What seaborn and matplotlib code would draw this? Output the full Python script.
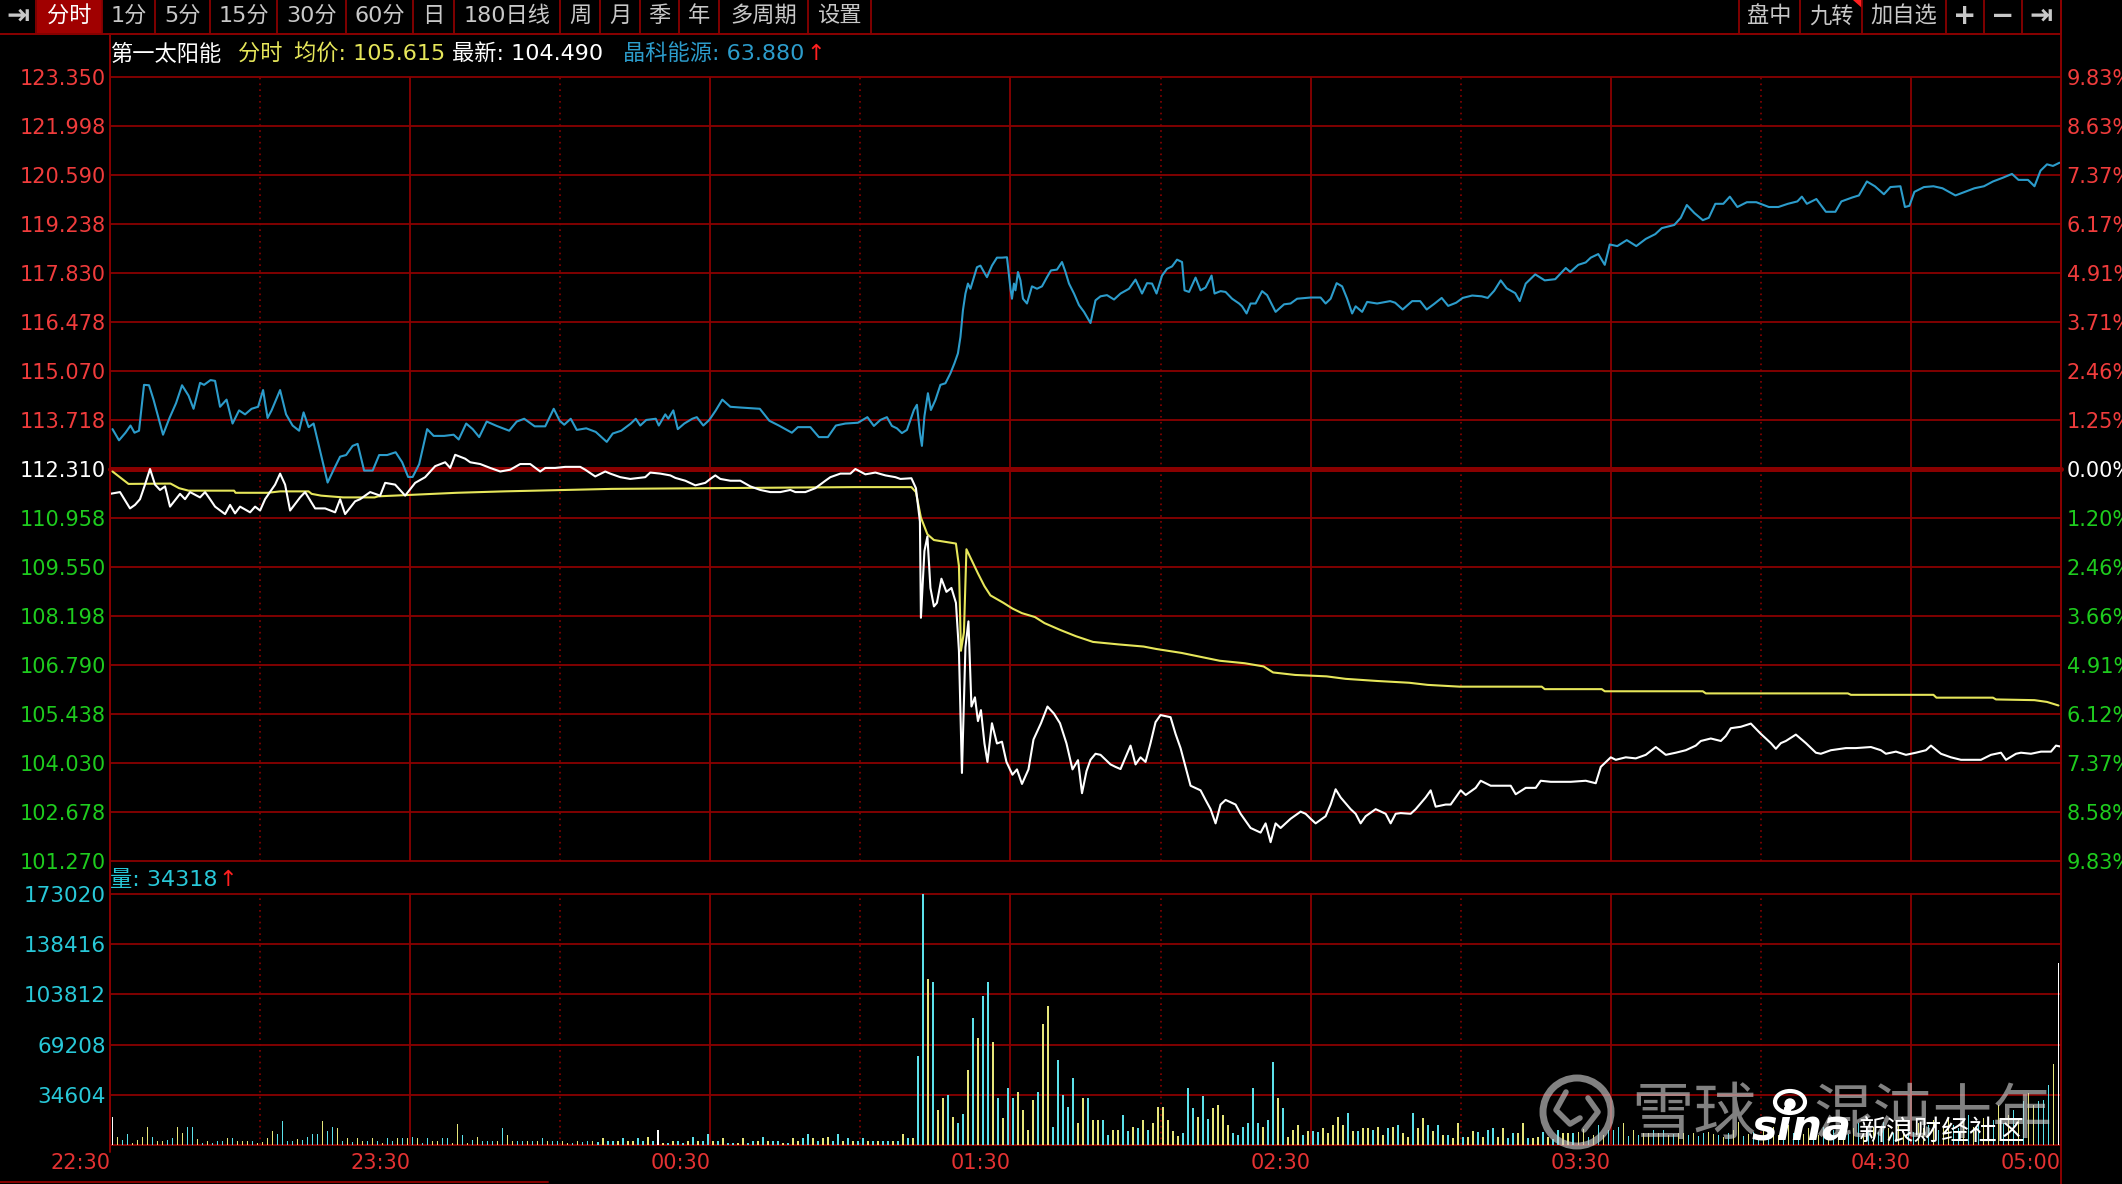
import numpy as np
import pandas as pd
import matplotlib.pyplot as plt
import seaborn as sns
from matplotlib.patches import Rectangle, Circle, Ellipse, Polygon

# ---------------- data ----------------
PRE_CLOSE = 112.31

PRICE_LABELS = ["123.350", "121.998", "120.590", "119.238", "117.830", "116.478",
                "115.070", "113.718", "112.310", "110.958", "109.550", "108.198",
                "106.790", "105.438", "104.030", "102.678", "101.270"]
PCT_LABELS = ["9.83%", "8.63%", "7.37%", "6.17%", "4.91%", "3.71%", "2.46%", "1.25%",
              "0.00%", "1.20%", "2.46%", "3.66%", "4.91%", "6.12%", "7.37%", "8.58%", "9.83%"]
VOL_TICKS = [34604, 69208, 103812, 138416, 173020]
TIME_TICKS = [0, 60, 120, 180, 240, 300, 360, 390]
TIME_LABELS = ["22:30", "23:30", "00:30", "01:30", "02:30", "03:30", "04:30", "05:00"]

# 第一太阳能 last price, minutes after 22:30
WHITE_T = [0, 2, 4, 5, 6, 7, 8, 9, 10, 11, 12, 14, 15, 16, 18, 19, 20, 21, 23, 24, 25, 26,
           28, 29, 30, 31, 33, 34, 35, 36, 38, 39, 41, 43, 45, 46, 47, 49, 50, 52, 54, 55,
           57, 59, 61, 63, 65, 67, 68, 69, 71, 72, 74, 76, 78, 80, 82, 84, 86, 87, 89, 91,
           94, 95, 97, 99, 100, 102, 104, 107, 108, 110, 112, 113, 115, 117, 119, 120, 121,
           122, 124, 126, 128, 130, 132, 134, 136, 137, 139, 141, 143, 144, 146, 148, 149,
           151, 153, 155, 157, 158, 160.2, 161.1, 161.9, 162.1, 162.8, 163.4, 164, 164.7,
           165.3, 166.2, 167.2, 168.2, 169.1, 169.7, 170.3, 171, 171.6, 172.2, 172.9, 173.5,
           174.1, 174.8, 175.4, 176.3, 177.3, 178.3, 179.2, 180.4, 181.3, 182.3, 183.6,
           184.6, 186.1, 187.4, 188.7, 189.9, 191.2, 192.4, 193.5, 194.3, 195.2,
           196, 197, 198, 200, 201, 202, 203, 204, 205, 206, 207, 208, 209, 210, 212, 213,
           214, 215, 216, 218, 219, 220, 221, 222, 223, 225, 226, 227, 228, 230, 231, 232,
           233, 234, 236, 238, 239, 240, 241, 243, 244, 245, 246, 248, 249, 250, 251, 253,
           255, 256, 257, 258, 260, 261, 263, 264, 265, 267, 268, 270, 271, 273, 274, 276,
           278, 280, 281, 283, 285, 286, 288, 290, 292, 295, 297, 298, 300, 301, 303, 305,
           307, 309, 311, 313, 315, 317, 318, 320, 322, 323, 324, 326, 328, 330, 332, 333,
           334, 335, 337, 339, 341, 342, 344, 347, 349, 352, 354, 355, 357, 359, 361, 363,
           364, 366, 368, 370, 372, 374, 376, 378, 379, 381, 382, 384, 386, 388, 389, 390]
WHITE_P = [111.61, 111.66, 111.20, 111.30, 111.46, 111.87, 112.31, 111.87, 111.72, 111.82,
           111.25, 111.61, 111.46, 111.66, 111.51, 111.66, 111.46, 111.25, 111.04, 111.30,
           111.06, 111.25, 111.09, 111.25, 111.14, 111.46, 111.87, 112.18, 111.87, 111.14,
           111.51, 111.66, 111.20, 111.20, 111.09, 111.46, 111.04, 111.40, 111.46, 111.66,
           111.56, 111.92, 111.87, 111.56, 111.92, 112.08, 112.39, 112.50, 112.34, 112.71,
           112.60, 112.50, 112.45, 112.34, 112.24, 112.29, 112.45, 112.45, 112.24, 112.34,
           112.34, 112.37, 112.37, 112.29, 112.10, 112.24, 112.18, 112.08, 112.03, 112.08,
           112.21, 112.18, 112.13, 112.06, 111.98, 111.85, 111.92, 112.03, 112.13, 112.03,
           111.98, 111.98, 111.82, 111.72, 111.66, 111.66, 111.72, 111.66, 111.66, 111.77,
           111.98, 112.08, 112.18, 112.18, 112.31, 112.16, 112.21, 112.13, 112.08, 112.03,
           112.05, 111.77, 110.83, 108.12, 110.00, 110.41, 108.96, 108.44, 108.54, 109.22,
           108.85, 108.96, 108.54, 107.19, 103.75, 107.29, 108.02, 105.62, 105.88, 105.21,
           105.52, 104.58, 104.06, 105.15, 104.58, 104.63, 104.06, 103.70, 103.85, 103.44,
           103.85, 104.69, 105.15, 105.62, 105.42, 105.15, 104.58, 103.85, 104.11, 103.18,
           103.80,
           104.12, 104.29, 104.26, 103.99, 103.92, 103.86, 104.19, 104.52, 103.99, 104.19,
           104.06, 104.59, 105.18, 105.38, 105.32, 104.85, 104.45, 103.92, 103.39, 103.26,
           102.99, 102.73, 102.33, 102.86, 102.99, 102.86, 102.60, 102.40, 102.20, 102.07,
           102.33, 101.80, 102.33, 102.20, 102.46, 102.66, 102.60, 102.46, 102.33, 102.53,
           102.86, 103.29, 103.06, 102.73, 102.60, 102.33, 102.53, 102.73, 102.60, 102.33,
           102.60, 102.62, 102.60, 102.73, 103.06, 103.26, 102.80, 102.86, 102.86, 103.26,
           103.13, 103.33, 103.53, 103.39, 103.39, 103.39, 103.15, 103.33, 103.33, 103.53,
           103.50, 103.50, 103.50, 103.53, 103.46, 103.92, 104.19, 104.12, 104.19, 104.16,
           104.26, 104.48, 104.26, 104.32, 104.39, 104.52, 104.65, 104.72, 104.65, 104.79,
           105.01, 105.05, 105.14, 104.85, 104.59, 104.43, 104.59, 104.65, 104.83, 104.59,
           104.32, 104.29, 104.39, 104.45, 104.45, 104.48, 104.39, 104.29, 104.35, 104.26,
           104.32, 104.39, 104.52, 104.29, 104.19, 104.12, 104.12, 104.12, 104.26, 104.32,
           104.12, 104.29, 104.32, 104.29, 104.35, 104.35, 104.52, 104.49]

# average price line
AVG_T = [0.5, 3.7, 12.1, 13.8, 15.7, 24.8, 25.1, 31.5, 34, 39.7, 40.3, 42.2, 46.6, 52.9,
         53.6, 59.9, 69.3, 78.8, 100.3, 148.9, 160.2, 161.1, 162.1, 163.4, 164.7, 169.1,
         169.7, 170.1, 170.7, 171.2, 173.5, 174.8, 176, 178.6, 180.4, 182.3, 184.9, 186.8,
         189.9, 193.1, 196.5, 201.6, 206.6, 209.2, 214.2, 218, 221.8, 226.8, 230.6, 232.5,
         236.9, 243.2, 247, 253.3, 259.7, 263.4, 269.8, 286.2, 286.8, 298.2, 298.8, 318.4,
         319, 347.4, 348, 364.5, 365.1, 376.4, 377, 384.7, 387.2, 389.5]
AVG_P = [112.24, 111.89, 111.90, 111.77, 111.70, 111.70, 111.64, 111.64, 111.68, 111.68,
         111.61, 111.56, 111.51, 111.51, 111.54, 111.58, 111.64, 111.68, 111.75, 111.80,
         111.80, 111.66, 110.94, 110.47, 110.31, 110.21, 109.58, 107.19, 107.71, 110.05,
         109.37, 109.01, 108.75, 108.54, 108.38, 108.25, 108.14, 107.97, 107.78, 107.60,
         107.44, 107.37, 107.31, 107.24, 107.13, 107.02, 106.91, 106.84, 106.75, 106.58,
         106.51, 106.47, 106.40, 106.34, 106.29, 106.23, 106.18, 106.18, 106.11, 106.11,
         106.05, 106.05, 105.99, 105.99, 105.95, 105.95, 105.87, 105.87, 105.82, 105.80,
         105.75, 105.65]

# 晶科能源 overlay, % change vs its own previous close
JK_T = [0.5, 1.8, 3.1, 4.1, 4.9, 5.8, 6.8, 7.8, 8.7, 10.6, 11.9, 13.2, 14.4, 15.7, 16.7, 18,
        18.8, 20.1, 21, 22, 23.3, 24.5, 25.8, 27, 28.3, 29.6, 30.6, 31.5, 32.3, 34, 35.2,
        36.5, 37.8, 38.7, 39.7, 40.7, 42.2, 43.5, 44.7, 46, 47.2, 48.5, 49.5, 50.8, 52.5,
        53.8, 55.4, 57.1, 58.4, 59.6, 60.5, 61.8, 63.4, 64.7, 66.8, 68.7, 69.7, 71.2, 72.5,
        73.8, 75.3, 77.3, 79.8, 81.3, 82.8, 84.9, 87, 88.7, 89.9, 90.8, 92.1, 93.3, 95.2,
        97.1, 99.3, 100.5, 102.2, 104.1, 105.1, 106, 107.2, 109.1, 109.7, 111, 111.6, 112.6,
        113.5, 114.8, 116.4, 117.3, 118.6, 119.8, 121.1, 122.4, 124, 126.2, 129.9, 131.8,
        133.7, 136.3, 137.5, 140, 141.7, 143.5, 145.1, 147, 149.5, 151.4, 152.7,
        154, 155.3, 156.3, 157.3, 158.3, 159.3, 160.7, 161.3, 161.9, 162.3, 162.8, 163.5,
        164.1, 165, 166, 167, 168, 168.8, 169.5, 170, 170.5, 171, 171.5, 172, 172.5, 173.3,
        174, 174.7, 175.3, 176.3, 177.3, 178.3, 179.3, 180, 180.3, 180.7, 181, 181.5, 182,
        182.5, 183.3, 184.3, 185.3, 186.3, 187.3, 188.1, 189.3, 190.3, 191, 191.7, 192.7,
        193.7, 194.7, 196, 197, 198, 199.3, 200.7, 202, 203.7, 205, 206.3, 207.3, 208.3,
        209.2, 210.3, 211.3, 212.3, 213.3, 214.3, 214.8, 215.7, 217, 218, 219, 220.2, 220.8,
        222, 223, 224.3, 225.7, 226.3, 227.2, 228, 229, 230.3, 231.3, 233, 234.7, 236,
        237.3, 240, 242, 243, 244, 245.2, 246.3, 247.3, 248.3, 249, 250.3, 251.3, 253.3,
        255.9, 256.9, 258.4, 260.3, 261.9, 263.2, 264.7, 266.2, 267.5, 269.1, 270.4, 272.3,
        274.2, 275.4, 276.7, 278, 279.2, 280.9, 281.8, 283, 284.9, 286.8, 288.9, 291, 291.9,
        293.5, 295, 296, 297.5, 298.8, 299.8, 301.3, 303.2, 305.1, 307, 308.9, 310.2, 312.7,
        314, 315.2, 316.7, 318.4, 319.6, 320.9, 322.5, 323.8, 325.3, 327.2, 329.1, 331.6,
        333.5, 335.4, 337.3, 338.2, 339.2, 341.1, 343, 344.9, 346.1, 348.3, 349.6, 351.2,
        352.8, 354.6, 355.9, 357.9, 358.8, 359.7, 360.7, 362.6, 364.5, 366.3, 368.9, 370.8,
        372.7, 374.6, 376.4, 378.3, 380.2, 381.5, 383.4, 384.7, 385.9, 387.2, 388.4, 389.7]
JK_PCT = [1.00, 0.72, 0.91, 1.09, 0.91, 0.96, 2.11, 2.10, 1.74, 0.86, 1.28, 1.65, 2.10, 1.84,
          1.51, 2.16, 2.11, 2.23, 2.21, 1.56, 1.74, 1.14, 1.47, 1.37, 1.51, 1.56, 1.98, 1.28,
          1.47, 1.98, 1.37, 1.09, 0.96, 1.42, 1.05, 1.14, 0.35, -0.34, -0.02, 0.31, 0.35,
          0.58, 0.63, -0.04, -0.04, 0.35, 0.35, 0.42, 0.17, -0.20, -0.20, 0.12, 1.00, 0.83,
          0.83, 0.86, 0.74, 1.14, 1.00, 0.80, 1.19, 1.08, 0.96, 1.19, 1.26, 1.07, 1.07, 1.51,
          1.21, 1.11, 1.26, 0.98, 1.02, 0.93, 0.68, 0.89, 0.96, 1.14, 1.26, 1.09, 1.23, 1.26,
          1.09, 1.37, 1.26, 1.47, 1.00, 1.14, 1.26, 1.30, 1.09, 1.23, 1.47, 1.74, 1.56, 1.54,
          1.51, 1.21, 1.09, 0.91, 1.05, 1.05, 0.80, 0.80, 1.09, 1.14, 1.16, 1.30, 1.08,
          1.23, 1.30, 1.08, 1.02, 0.90, 0.98, 1.48, 1.61, 0.90, 0.58, 1.32, 1.90, 1.48, 1.73,
          2.11, 2.15, 2.40, 2.65, 2.90, 3.31, 3.98, 4.40, 4.65, 4.52, 4.73, 5.06, 5.10, 4.94,
          4.81, 5.10, 5.30, 5.30, 5.31, 4.52, 4.27, 4.65, 4.48, 4.94, 4.73, 4.27, 4.15, 4.58,
          4.52, 4.58, 4.81, 4.98, 5.00, 5.19, 4.94, 4.65, 4.40, 4.11, 3.94, 3.66, 4.23, 4.33,
          4.36, 4.25, 4.40, 4.52, 4.75, 4.40, 4.66, 4.65, 4.40, 4.85, 5.02, 5.08, 5.25, 5.19,
          4.48, 4.44, 4.80, 4.48, 4.55, 4.85, 4.40, 4.46, 4.44, 4.27, 4.15, 4.08, 3.90, 4.15,
          4.15, 4.46, 4.36, 3.94, 4.13, 4.15, 4.27, 4.30, 4.30, 4.15, 4.27, 4.66, 4.58, 4.27,
          3.90, 4.08, 3.94, 4.19, 4.15,
          4.21, 4.17, 4.00, 4.21, 4.21, 4.00, 4.14, 4.29, 4.09, 4.17, 4.29, 4.35, 4.33, 4.29,
          4.47, 4.73, 4.53, 4.41, 4.21, 4.65, 4.88, 4.73, 4.76, 5.04, 4.94, 5.12, 5.18, 5.30,
          5.39, 5.12, 5.63, 5.59, 5.74, 5.59, 5.77, 5.89, 6.04, 6.12, 6.30, 6.62, 6.42, 6.24,
          6.30, 6.65, 6.65, 6.83, 6.57, 6.69, 6.69, 6.57, 6.57, 6.65, 6.71, 6.83, 6.65, 6.77,
          6.45, 6.45, 6.71, 6.81, 6.86, 7.21, 7.09, 6.89, 7.07, 7.09, 6.57, 6.60, 6.95, 7.07,
          7.09, 7.04, 6.86, 6.95, 7.04, 7.09, 7.21, 7.30, 7.40, 7.25, 7.25, 7.09, 7.48, 7.64,
          7.60, 7.68]

# per-minute volume (thousand shares) and bar colour code: y=up, c=down, w=flat
VOL_K = [19.6, 5.8, 3.5, 7.4, 1.6, 3.5, 5.8, 12.7, 5.8, 3.0,
         3.0, 3.5, 4.6, 12.7, 8.5, 12.7, 12.7, 4.4, 1.6, 3.0,
         1.6, 3.0, 3.0, 4.6, 4.6, 3.0, 3.0, 3.0, 3.0, 1.6,
         2.3, 4.6, 9.9, 7.6, 16.8, 3.0, 3.0, 4.4, 3.5, 5.8,
         7.4, 7.4, 16.8, 9.9, 12.7, 11.5, 3.0, 4.6, 2.3, 4.6,
         3.0, 3.0, 4.6, 3.0, 1.6, 4.6, 3.0, 4.6, 4.6, 4.6,
         5.8, 4.6, 1.6, 4.6, 3.0, 3.0, 4.6, 4.6, 1.6, 14.3,
         6.9, 1.6, 3.5, 5.8, 3.0, 3.0, 3.0, 3.0, 11.5, 6.9,
         3.0, 3.0, 3.0, 3.0, 3.0, 3.0, 4.6, 3.0, 3.0, 3.0,
         3.0, 1.6, 1.6, 3.0, 2.3, 3.0, 3.0, 2.3, 4.6, 3.0,
         3.0, 3.0, 4.6, 3.0, 3.0, 4.6, 3.0, 5.8, 3.0, 10.4,
         1.6, 1.6, 3.0, 3.0, 1.6, 3.0, 5.8, 3.0, 3.0, 7.4,
         3.0, 3.0, 4.6, 1.6, 1.6, 1.6, 4.6, 1.6, 3.0, 3.0,
         5.8, 3.0, 3.0, 3.0, 1.6, 1.6, 4.6, 3.0, 4.6, 7.4,
         4.6, 3.0, 4.6, 5.8, 3.0, 7.4, 3.0, 4.6, 3.0, 3.0,
         4.6, 3.0, 3.0, 3.0, 3.0, 3.0, 3.0, 3.0, 7.4, 4.6,
         4.6, 61.1, 173.0, 114.2, 112.6, 24.2, 32.3, 34.6, 19.6, 15.5,
         21.2, 51.9, 87.7, 73.8, 102.7, 112.6, 71.1, 32.3, 18.5, 39.2,
         32.3, 36.5, 24.2, 10.4, 31.1, 36.5, 83.7, 95.7, 12.7, 58.4,
         34.6, 26.5, 46.1, 15.5, 32.3, 32.3, 17.3, 17.3, 17.3, 6.9,
         10.4, 10.4, 20.8, 9.9, 12.7, 11.5, 17.3, 10.4, 15.5, 26.5,
         26.5, 17.3, 9.9, 6.2, 8.1, 39.2, 25.4, 19.6, 33.5, 17.8,
         25.4, 27.7, 20.8, 13.8, 8.1, 6.9, 12.7, 15.5, 39.2, 15.5,
         12.7, 17.3, 57.0, 32.3, 25.4, 5.8, 10.4, 13.8, 6.9, 9.9,
         9.9, 9.2, 11.5, 8.1, 13.8, 19.6, 13.8, 22.4, 9.9, 9.9,
         11.5, 11.5, 10.4, 12.7, 6.9, 11.5, 12.7, 13.8, 8.1, 5.8,
         22.4, 11.5, 18.5, 13.8, 9.9, 13.8, 6.9, 6.9, 4.6, 15.5,
         5.8, 5.8, 9.9, 9.2, 5.8, 10.4, 11.5, 5.8, 11.5, 4.6,
         8.1, 8.1, 15.5, 4.6, 4.6, 5.8, 9.2, 5.3, 3.9, 10.4,
         8.1, 8.5, 8.5, 9.2, 10.8, 5.3, 6.9, 13.8, 6.9, 10.4,
         10.4, 12.2, 15.5, 6.2, 10.4, 6.9, 8.1, 8.5, 10.4, 8.1,
         10.4, 6.9, 7.6, 8.1, 8.5, 6.9, 8.5, 6.2, 8.5, 9.2,
         7.6, 6.9, 5.3, 8.1, 10.4, 16.1, 6.2, 7.6, 9.2, 6.9,
         10.4, 8.1, 12.7, 6.9, 9.2, 13.8, 8.1, 10.4, 7.6, 11.5,
         9.2, 6.9, 12.7, 8.1, 10.4, 9.2, 13.8, 7.6, 11.5, 15.5,
         8.1, 10.4, 12.7, 9.2, 16.1, 11.5, 8.1, 13.8, 10.4, 12.7,
         9.2, 15.5, 11.5, 13.8, 17.3, 10.4, 12.7, 19.6, 13.8, 11.5,
         16.1, 20.8, 12.7, 15.5, 18.5, 13.8, 17.3, 27.7, 15.5, 20.8,
         24.2, 17.3, 30.0, 35.8, 27.7, 30.0, 31.1, 41.5, 55.8, 125.7]
VOL_KIND = ("wyccyyyycy" "yccyyccycy" "cccycyyycy" "yyyccccycc" "ccyccycycy"
            "ycycyccycy" "cyccyyccyy" "cycycccycy" "yccycycycc" "yycyccycyc"
            "cycyyccycw" "ycyccycycc" "ycyccyyccy" "cyccycyycc" "ycyyccycyc"
            "cycyccycyc" "yccycyycyc" "cycyccycyc" "cyyyycyycc" "cccyycyycc"
            "yyccycycyy" "yyyycccycc" "yyyycccccc" "yccycyyycy" "ccyyyyycyc"
            "yycyycycyy" "cyycycycyy" "cyycyccyyc" "cyycyycycc" "yycyycycyc"
            "ccycycyycy" "cycyycyccy" "ycycyycycc" "ycyycyccyy" "cycycyycyc"
            "ycyccycyyc" "cyycycyycc" "ycycyycycy" "cycyycccyw")

# ---------------- style ----------------
RED_GRID = "#8A0000"
UP_RED = "#F03C3C"
DOWN_GREEN = "#1ECB1E"
CYAN_TXT = "#28C8D8"
GRAY_TXT = "#C8C8C8"
LINE_YELLOW = "#E6E65A"
LINE_BLUE = "#2C9CCB"

sns.set_theme(style="dark")
plt.rcParams["font.family"] = ["DejaVu Sans", "Noto Sans CJK SC"]
plt.rcParams["axes.unicode_minus"] = False

W, H = 2122, 1184
fig = plt.figure(figsize=(W / 100, H / 100), dpi=100, facecolor="black")


def box(x0, y0, x1, y1):
    # pixel box measured from the top-left -> figure fraction
    return [x0 / W, 1 - y1 / H, (x1 - x0) / W, (y1 - y0) / H]


ax = fig.add_axes(box(110, 77, 2061, 861))
axv = fig.add_axes(box(110, 894, 2061, 1145))
for a in (ax, axv):
    a.set_facecolor("black")
    for s in a.spines.values():
        s.set_visible(False)
    a.grid(False)

# ---- price panel ----
grid_y = np.linspace(101.27, 123.35, len(PRICE_LABELS))
for i, y in enumerate(grid_y):
    ax.axhline(y, color=RED_GRID, lw=3.6 if i == 8 else 1.3, zorder=1, clip_on=False)
for t in range(60, 390, 60):
    ax.axvline(t, color=RED_GRID, lw=1.3, zorder=1)
    axv.axvline(t, color=RED_GRID, lw=1.3, zorder=1)
for t in range(30, 390, 60):
    ax.axvline(t, color=RED_GRID, lw=1.2, ls=(0, (1, 2.5)), zorder=1)
    axv.axvline(t, color=RED_GRID, lw=1.2, ls=(0, (1, 2.5)), zorder=1)

jk_price = PRE_CLOSE * (1 + np.array(JK_PCT) / 100)
sns.lineplot(x=JK_T, y=jk_price, color=LINE_BLUE, lw=1.5, ax=ax, zorder=3)
sns.lineplot(x=AVG_T, y=AVG_P, color=LINE_YELLOW, lw=1.5, ax=ax, zorder=3)
sns.lineplot(x=WHITE_T, y=WHITE_P, color="white", lw=1.5, ax=ax, zorder=4)

ax.set_xlim(0, 390)
ax.set_ylim(101.27, 123.35)
ax.set_xlabel("")
ax.set_ylabel("")
ax.set_xticks([])


def label_color(i):
    if i < 8:
        return UP_RED
    if i == 8:
        return "white"
    return DOWN_GREEN


ax.set_yticks(grid_y, labels=PRICE_LABELS[::-1])
ax.tick_params(axis="y", length=0, pad=3, labelsize=15)
for i, lab in enumerate(ax.get_yticklabels()[::-1]):
    lab.set_color(label_color(i))

axr = ax.twinx()
axr.set_ylim(101.27, 123.35)
axr.set_yticks(grid_y, labels=PCT_LABELS[::-1])
axr.tick_params(axis="y", length=0, pad=4, labelsize=15)
axr.grid(False)
for s in axr.spines.values():
    s.set_visible(False)
for i, lab in enumerate(axr.get_yticklabels()[::-1]):
    lab.set_color(label_color(i))

# ---- volume panel ----
vol = pd.DataFrame({
    "t": np.arange(len(VOL_K)) + 0.5,
    "vol": np.array(VOL_K) * 1000,
    "kind": list(VOL_KIND),
})
sns.barplot(data=vol, x="t", y="vol", hue="kind", native_scale=True, dodge=False,
            palette={"y": "#E6E67A", "c": "#5CE1EA", "w": "#FFFFFF"},
            width=0.3, errorbar=None, legend=False, saturation=1, linewidth=0,
            ax=axv, zorder=3)
for v in [0] + VOL_TICKS:
    axv.axhline(v, color=RED_GRID, lw=1.3, zorder=1, clip_on=False)
axv.set_xlim(0, 390)
axv.set_ylim(0, 173020)
axv.set_xlabel("")
axv.set_ylabel("")
axv.set_yticks(VOL_TICKS, labels=[str(v) for v in VOL_TICKS])
axv.tick_params(axis="y", length=0, pad=3, labelsize=15.5, labelcolor=CYAN_TXT)
axv.set_xticks(TIME_TICKS, labels=TIME_LABELS)
axv.tick_params(axis="x", length=0, pad=6, labelsize=15, labelcolor="#E43232")
for lab in axv.get_xticklabels():
    lab.set_ha("right")

# ---- overlay: toolbar, title, frame, watermark ----
axo = fig.add_axes([0, 0, 1, 1])
axo.set_xlim(0, W)
axo.set_ylim(H, 0)
axo.axis("off")

cjk = ["Noto Sans CJK SC", "DejaVu Sans"]

left_edges = [0, 36, 102, 155, 210, 277, 346, 413, 454, 560, 600, 640, 679, 719, 808, 871]
left_tabs = ["⇥", "分时", "1分", "5分", "15分", "30分", "60分", "日", "180日线",
             "周", "月", "季", "年", "多周期", "设置"]
for i, name in enumerate(left_tabs):
    x0, x1 = left_edges[i], left_edges[i + 1]
    if name == "分时":
        axo.add_patch(Rectangle((x0 + 1, 0), x1 - x0 - 1, 33, color="#A00000", lw=0))
    axo.plot([x1, x1], [0, 33], color=RED_GRID, lw=1.3)
    axo.text((x0 + x1) / 2, 16, name, ha="center", va="center",
             fontsize=20 if name == "⇥" else 16,
             color="white" if name == "分时" else GRAY_TXT,
             fontweight="bold" if name == "⇥" else "normal")

right_edges = [1739, 1800, 1862, 1946, 1984, 2022, 2061]
right_tabs = ["盘中", "九转", "加自选", "+", "−", "⇥"]
axo.plot([right_edges[0], right_edges[0]], [0, 33], color=RED_GRID, lw=1.3)
for i, name in enumerate(right_tabs):
    x0, x1 = right_edges[i], right_edges[i + 1]
    axo.plot([x1, x1], [0, 33], color=RED_GRID, lw=1.3)
    big = name in ("+", "−", "⇥")
    axo.text((x0 + x1) / 2, 16, name, ha="center", va="center",
             fontsize=20 if big else 16, color=GRAY_TXT,
             fontweight="bold" if big else "normal")
axo.add_patch(Polygon([[1853, 0], [1862, 0], [1862, 8]], color="#FF2020", lw=0))

axo.plot([0, 2061], [34, 34], color=RED_GRID, lw=1.4)
axo.plot([110, 110], [34, 1152], color=RED_GRID, lw=1.4)
axo.plot([2061, 2061], [0, H], color=RED_GRID, lw=1.4)
axo.plot([0, 548], [1182, 1182], color=RED_GRID, lw=1.4)

title_parts = [
    (110, "第一太阳能", "white"),
    (238, "分时", LINE_YELLOW),
    (294, "均价: 105.615", LINE_YELLOW),
    (452, "最新: 104.490", "white"),
    (623, "晶科能源: 63.880", LINE_BLUE),
    (806, "↑", "#FF2020"),
]
for x, s, c in title_parts:
    axo.text(x, 54, s, ha="left", va="center", fontsize=16, color=c)

axo.text(110, 880, "量: 34318", ha="left", va="center", fontsize=16, color=CYAN_TXT)
axo.text(218, 880, "↑", ha="left", va="center", fontsize=16, color="#FF2020")

# watermark
wm = (0.82, 0.82, 0.82, 0.62)
axo.add_patch(Circle((1577, 1112), 34, fill=False, ec=wm, lw=5))
axo.plot([1566, 1556, 1570, 1580], [1092, 1110, 1124, 1118], color=wm, lw=4,
         solid_capstyle="round")
axo.plot([1588, 1598, 1584], [1098, 1112, 1130], color=wm, lw=4, solid_capstyle="round")
axo.text(1631, 1116, "雪球", ha="left", va="center", fontsize=45, color=wm,
         family=cjk)
axo.text(1813, 1116, "混沌十年", ha="left", va="center", fontsize=43, color=wm,
         family=cjk)
axo.add_patch(Ellipse((1790, 1102), 30, 22, fill=False, ec="white", lw=3))
axo.add_patch(Circle((1790, 1104), 5, color="white"))
axo.text(1752, 1128, "sina", ha="left", va="center", fontsize=31, color="white",
         fontweight="bold", style="italic")
axo.text(1859, 1132, "新浪财经社区", ha="left", va="center", fontsize=20,
         color="white", family=cjk)

fig.savefig("out.png", dpi=100, facecolor="black")
